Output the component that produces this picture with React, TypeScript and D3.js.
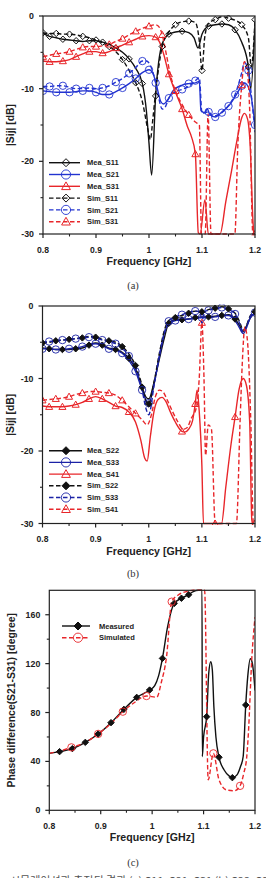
import React from 'react';
import * as d3 from 'd3';

type Pt = [number, number];

// ---------- axis ticks ----------
const FREQ_TICKS = [0.8, 0.9, 1.0, 1.1, 1.2];
const FREQ_TICK_LABELS = ['0.8', '0.9', '1', '1.1', '1.2'];
const FREQ_MINOR = [0.85, 0.95, 1.05, 1.15];
const DB_TICKS = [0, -10, -20, -30];
const DB_MINOR = [-5, -15, -25];
const PHASE_TICKS = [0, 40, 80, 120, 160];
const PHASE_MINOR = [20, 60, 100, 140];

// ---------- (a) S11 / S21 / S31 [dB] ----------
const MEA_S11: Pt[] = [[0.8,-2.4],[0.8125,-2.8],[0.825,-3.0],[0.8375,-3.2],[0.85,-3.3],[0.8625,-3.4],[0.875,-3.5],[0.8875,-3.4],[0.9,-3.4],[0.9125,-3.6],[0.925,-3.9],[0.9375,-4.4],[0.95,-5.0],[0.9625,-5.9],[0.975,-7.2],[0.9875,-9.3],[0.995,-13.0],[1.0,-17.5],[1.005,-21.9],[1.0125,-11.0],[1.025,-3.8],[1.0375,-2.5],[1.05,-2.2],[1.0625,-2.1],[1.075,-2.3],[1.085,-3.0],[1.0925,-4.4],[1.1,-2.5],[1.1125,-1.4],[1.125,-1.2],[1.1375,-1.1],[1.15,-1.2],[1.1625,-1.9],[1.175,-3.6],[1.1875,-7.0],[1.192,-10.0],[1.2,-1.0]];
const SIM_S11: Pt[] = [[0.8,-2.3],[0.8125,-2.4],[0.825,-2.4],[0.8375,-2.5],[0.85,-2.5],[0.8625,-2.6],[0.875,-2.8],[0.8875,-3.0],[0.9,-3.3],[0.9125,-3.7],[0.925,-4.2],[0.9375,-4.9],[0.95,-6.0],[0.9625,-7.5],[0.975,-9.2],[0.9875,-11.8],[0.9975,-15.5],[1.0025,-17.0],[1.0075,-14.0],[1.0125,-10.5],[1.025,-4.2],[1.0375,-2.2],[1.05,-1.2],[1.0625,-0.8],[1.075,-0.7],[1.0875,-0.9],[1.095,-3.5],[1.1,-7.5],[1.105,-3.0],[1.1125,-1.0],[1.125,-0.5],[1.1375,-0.1],[1.15,-0.3],[1.1625,-0.6],[1.175,-1.2],[1.1875,-3.0],[1.193,-7.0],[1.2,-0.5]];
const MEA_S21: Pt[] = [[0.8,-10.3],[0.8125,-10.4],[0.825,-10.5],[0.8375,-10.5],[0.85,-10.5],[0.8625,-10.4],[0.875,-10.3],[0.8875,-10.3],[0.9,-10.5],[0.9125,-10.8],[0.925,-10.8],[0.9375,-10.4],[0.95,-9.9],[0.9625,-9.3],[0.975,-8.6],[0.9875,-7.8],[1.0,-7.4],[1.0075,-7.9],[1.015,-9.8],[1.0225,-11.8],[1.0275,-12.1],[1.0375,-11.3],[1.045,-10.3],[1.0625,-9.5],[1.075,-9.3],[1.0875,-9.2],[1.095,-9.0],[1.098,-13.0],[1.105,-13.3],[1.11,-12.8],[1.115,-13.6],[1.125,-13.9],[1.1375,-13.2],[1.15,-12.4],[1.1625,-11.1],[1.175,-9.6],[1.18,-9.2],[1.1875,-9.8],[1.1925,-11.0],[1.2,-15.0]];
const SIM_S21: Pt[] = [[0.8,-9.7],[0.8125,-9.7],[0.825,-9.6],[0.8375,-9.6],[0.85,-9.8],[0.8625,-10.0],[0.875,-10.0],[0.8875,-9.9],[0.9,-10.0],[0.9125,-9.9],[0.925,-9.6],[0.9375,-9.1],[0.95,-8.6],[0.9625,-7.9],[0.975,-7.1],[0.9875,-6.2],[0.995,-6.2],[1.0025,-6.8],[1.0125,-9.2],[1.0175,-11.0],[1.025,-12.8],[1.03,-12.6],[1.0375,-11.3],[1.05,-10.4],[1.0625,-10.1],[1.075,-9.7],[1.0875,-8.9],[1.095,-8.5],[1.1,-13.4],[1.1125,-13.2],[1.12,-13.8],[1.1375,-13.3],[1.15,-12.3],[1.1625,-10.8],[1.175,-7.8],[1.18,-6.4],[1.1875,-7.5],[1.1925,-10.5],[1.2,-16.0]];
const MEA_S31: Pt[] = [[0.8,-6.2],[0.8125,-6.3],[0.825,-6.3],[0.8375,-6.2],[0.85,-6.0],[0.8625,-5.6],[0.875,-5.2],[0.8875,-4.9],[0.9,-4.9],[0.9125,-5.1],[0.925,-4.9],[0.9375,-4.4],[0.95,-4.0],[0.9625,-3.6],[0.975,-3.2],[0.9875,-2.8],[1.0,-2.7],[1.0125,-2.9],[1.02,-3.6],[1.0275,-5.2],[1.0375,-8.0],[1.05,-10.5],[1.0625,-12.8],[1.0725,-15.2],[1.08,-16.6],[1.0875,-19.0],[1.093,-29.8],[1.0965,-30.0],[1.1055,-25.3],[1.112,-30.0],[1.134,-30.0],[1.145,-25.5],[1.156,-21.2],[1.165,-17.5],[1.175,-14.0],[1.18,-13.4],[1.186,-14.2],[1.191,-18.0],[1.196,-28.0],[1.2,-32.0]];
const SIM_S31: Pt[] = [[0.8,-5.6],[0.8125,-5.4],[0.825,-5.2],[0.8375,-5.1],[0.85,-4.9],[0.8625,-4.6],[0.875,-4.3],[0.8875,-4.2],[0.9,-4.2],[0.9125,-4.1],[0.925,-3.9],[0.9375,-3.5],[0.95,-3.1],[0.9625,-2.6],[0.975,-2.1],[0.9875,-1.7],[1.0,-1.4],[1.0125,-1.2],[1.02,-1.6],[1.025,-2.6],[1.0325,-5.2],[1.04,-8.0],[1.05,-10.3],[1.0625,-12.2],[1.075,-13.6],[1.0875,-14.6],[1.095,-15.0],[1.099,-30.0],[1.106,-30.0],[1.1115,-13.5],[1.117,-30.0],[1.162,-30.0],[1.1675,-18.0],[1.175,-9.5],[1.18,-6.3],[1.1855,-7.5],[1.19,-13.0],[1.196,-30.0],[1.2,-30.0]];

// ---------- (b) S22 / S33 / S41 [dB] ----------
const MEA_S22: Pt[] = [[0.8,-5.8],[0.8125,-5.9],[0.825,-6.0],[0.8375,-6.0],[0.85,-6.0],[0.8625,-5.9],[0.875,-5.8],[0.8875,-5.4],[0.9,-5.1],[0.9125,-5.4],[0.925,-5.8],[0.9375,-6.0],[0.95,-6.4],[0.9625,-7.2],[0.975,-8.6],[0.9875,-11.2],[0.995,-12.6],[1.0,-12.8],[1.01,-10.5],[1.02,-7.3],[1.03,-4.2],[1.0375,-2.4],[1.05,-1.9],[1.0625,-1.9],[1.075,-1.8],[1.0875,-1.6],[1.1,-1.5],[1.1125,-1.5],[1.125,-1.4],[1.1375,-1.3],[1.15,-1.2],[1.1625,-1.8],[1.17,-2.6],[1.178,-3.5],[1.185,-2.6],[1.19,-1.8],[1.2,-1.0]];
const SIM_S22: Pt[] = [[0.8,-5.1],[0.8125,-5.0],[0.825,-4.8],[0.8375,-4.7],[0.85,-4.6],[0.8625,-4.5],[0.875,-4.4],[0.8875,-4.2],[0.9,-4.3],[0.9125,-4.6],[0.925,-4.8],[0.9375,-5.0],[0.95,-5.6],[0.9625,-6.6],[0.975,-8.2],[0.9875,-11.0],[0.995,-13.2],[1.0,-13.5],[1.01,-10.5],[1.02,-6.5],[1.03,-3.2],[1.0375,-2.0],[1.05,-1.6],[1.0625,-1.3],[1.075,-1.0],[1.0875,-0.7],[1.1,-0.8],[1.1125,-0.5],[1.125,-0.3],[1.1375,-0.1],[1.15,-0.4],[1.1625,-1.0],[1.17,-2.0],[1.178,-3.3],[1.185,-2.5],[1.19,-1.5],[1.2,-0.8]];
const MEA_S33: Pt[] = [[0.8,-5.9],[0.8125,-5.9],[0.825,-6.0],[0.8375,-6.0],[0.85,-5.9],[0.8625,-5.8],[0.875,-5.6],[0.8875,-5.3],[0.9,-5.2],[0.9125,-5.5],[0.925,-5.9],[0.9375,-6.1],[0.95,-6.5],[0.9625,-7.5],[0.975,-9.0],[0.9875,-11.6],[0.995,-13.0],[1.0,-13.4],[1.01,-10.8],[1.02,-7.0],[1.03,-3.6],[1.0375,-2.5],[1.05,-2.0],[1.0625,-1.9],[1.075,-1.8],[1.0875,-1.7],[1.1,-1.6],[1.1125,-1.6],[1.125,-1.5],[1.1375,-1.3],[1.15,-1.3],[1.1625,-2.0],[1.17,-2.9],[1.178,-3.8],[1.185,-2.8],[1.19,-1.8],[1.2,-0.9]];
const SIM_S33: Pt[] = [[0.8,-5.0],[0.8125,-4.9],[0.825,-4.8],[0.8375,-4.7],[0.85,-4.6],[0.8625,-4.5],[0.875,-4.4],[0.8875,-4.3],[0.9,-4.4],[0.9125,-4.7],[0.925,-4.9],[0.9375,-5.2],[0.95,-5.8],[0.9625,-6.9],[0.975,-8.6],[0.9875,-11.6],[0.995,-14.2],[1.0,-15.0],[1.01,-11.0],[1.02,-6.8],[1.03,-3.5],[1.0375,-2.1],[1.05,-1.5],[1.0625,-1.2],[1.075,-0.9],[1.0875,-0.7],[1.097,-0.8],[1.1,-2.4],[1.104,-0.8],[1.1125,-0.6],[1.125,-0.4],[1.1375,-0.2],[1.15,-0.5],[1.1625,-1.1],[1.17,-2.2],[1.178,-3.6],[1.185,-2.7],[1.19,-1.6],[1.2,-0.8]];
const MEA_S41: Pt[] = [[0.8,-13.8],[0.8125,-13.9],[0.825,-13.9],[0.8375,-13.9],[0.85,-13.8],[0.8625,-13.6],[0.875,-13.3],[0.8875,-12.8],[0.9,-12.5],[0.9125,-12.8],[0.925,-13.3],[0.9375,-13.8],[0.95,-14.0],[0.9625,-14.6],[0.975,-16.0],[0.985,-18.5],[0.9925,-21.0],[0.997,-21.4],[1.003,-18.0],[1.01,-14.5],[1.0175,-12.9],[1.025,-12.6],[1.0325,-13.2],[1.04,-14.5],[1.05,-16.0],[1.0625,-17.3],[1.0675,-17.4],[1.075,-17.0],[1.0825,-15.8],[1.0875,-13.5],[1.091,-11.6],[1.095,-14.5],[1.1,-22.0],[1.103,-30.0],[1.137,-30.0],[1.145,-25.0],[1.155,-19.0],[1.1625,-15.3],[1.17,-11.5],[1.178,-10.0],[1.184,-11.0],[1.19,-16.0],[1.194,-29.5],[1.2,-31.0]];
const SIM_S41: Pt[] = [[0.8,-13.0],[0.8125,-12.9],[0.825,-12.8],[0.8375,-12.7],[0.85,-12.5],[0.8625,-12.2],[0.875,-12.0],[0.8875,-11.8],[0.9,-11.8],[0.9125,-11.9],[0.925,-12.0],[0.9375,-12.3],[0.95,-13.0],[0.9625,-13.9],[0.975,-14.8],[0.9875,-15.7],[0.997,-16.4],[1.005,-15.0],[1.0125,-12.5],[1.02,-11.6],[1.0275,-11.9],[1.035,-13.0],[1.045,-14.6],[1.055,-16.0],[1.065,-17.0],[1.072,-16.8],[1.08,-15.5],[1.09,-13.9],[1.095,-10.0],[1.1,-2.3],[1.104,-10.0],[1.107,-20.6],[1.112,-16.4],[1.118,-17.0],[1.125,-30.0],[1.165,-30.0],[1.172,-15.7],[1.176,-8.0],[1.181,-2.9],[1.186,-5.0],[1.192,-15.7],[1.197,-30.0],[1.2,-30.0]];

// ---------- (c) phase difference S21-S31 [degree] ----------
const MEASURED: Pt[] = [[0.8,46.6],[0.82,48.0],[0.845,50.5],[0.87,55.6],[0.895,62.4],[0.92,71.7],[0.945,82.6],[0.97,92.4],[0.995,98.4],[1.005,102.0],[1.0125,110.0],[1.02,124.3],[1.03,150.0],[1.043,169.3],[1.057,173.5],[1.071,176.4],[1.08,179.0],[1.09,180.0],[1.097,180.0],[1.0975,44.0],[1.1,60.0],[1.106,76.6],[1.11,112.0],[1.114,121.6],[1.117,115.0],[1.12,85.0],[1.124,60.0],[1.13,43.4],[1.14,33.0],[1.15,28.0],[1.156,26.7],[1.165,29.0],[1.172,36.0],[1.177,44.0],[1.182,86.2],[1.186,110.0],[1.191,124.0],[1.195,120.0],[1.2,98.0]];
const SIMULATED: Pt[] = [[0.8,46.6],[0.82,48.5],[0.843,51.5],[0.87,55.5],[0.895,62.5],[0.92,71.0],[0.943,80.7],[0.965,88.0],[0.989,93.5],[1.009,92.5],[1.018,105.0],[1.028,125.7],[1.038,170.7],[1.05,176.0],[1.067,179.0],[1.08,180.0],[1.102,180.0],[1.109,25.0],[1.119,46.6],[1.13,25.0],[1.145,16.6],[1.16,16.0],[1.171,20.0],[1.178,30.0],[1.184,44.0],[1.187,62.0],[1.194,125.7],[1.2,158.0]];
const MEASURED_MARKS = [0.82, 0.845, 0.87, 0.895, 0.92, 0.945, 0.97, 0.995, 1.02, 1.043, 1.057, 1.071, 1.106, 1.13, 1.156, 1.182];
const SIMULATED_MARKS = [0.843, 0.895, 0.943, 0.989, 1.038, 1.119, 1.171];

const LEGEND_A = ['Mea_S11', 'Mea_S21', 'Mea_S31', 'Sim_S11', 'Sim_S21', 'Sim_S31'];
const LEGEND_B = ['Mea_S22', 'Mea_S33', 'Mea_S41', 'Sim_S22', 'Sim_S33', 'Sim_S41'];
const LEGEND_C = ['Measured', 'Simulated'];

const FONT = 'Liberation Sans, Arial, Helvetica, sans-serif';
const BLACK = '#111';
const RED = '#e8262a';
const BLUE_A = '#2233d0';
const BLUE_B = '#1b22a6';

type Shape = 'diamond' | 'circle' | 'triangle';
interface Series {
  data: Pt[];
  color: string;
  dashed: boolean;
  shape: Shape;
  filled: boolean;
  phase?: number; // marker grid offset (every 0.025 GHz)
  marks?: number[];
}

function Marker({ shape, x, y, color, filled, s }: { shape: Shape; x: number; y: number; color: string; filled: boolean; s: number }) {
  const fill = filled ? color : 'none';
  if (shape === 'diamond') {
    return <path d={`M${x},${y - s}L${x + s},${y}L${x},${y + s}L${x - s},${y}Z`} fill={fill} stroke={color} strokeWidth={1} />;
  }
  if (shape === 'circle') {
    return <circle cx={x} cy={y} r={s * 1.15} fill={fill} stroke={color} strokeWidth={0.9} />;
  }
  const h = s * 1.1;
  return <path d={`M${x},${y - h}L${x + h},${y + h * 0.75}L${x - h},${y + h * 0.75}Z`} fill={fill} stroke={color} strokeWidth={1} />;
}

function isMarked(f: number, s: Series) {
  if (s.marks) return s.marks.some((m) => Math.abs(m - f) < 1e-9);
  const k = (f - (s.phase ?? 0)) / 0.025;
  return Math.abs(k - Math.round(k)) < 1e-6;
}

interface PanelProps {
  id: string;
  left: number; right: number; top: number; bottom: number;
  yDomain: [number, number];
  yTicks: number[]; yMinor: number[];
  yTitle: string; yTitleX: number;
  series: Series[];
  legend: string[];
  legendX: [number, number, number, number]; // line start, marker, line end, text
  legendY: number; legendStep: number;
  markSize: number;
  caption: string; captionY: number;
}

function Panel(p: PanelProps) {
  const x = d3.scaleLinear().domain([0.8, 1.2]).range([p.left, p.right]);
  const y = d3.scaleLinear().domain(p.yDomain).range([p.bottom, p.top]);
  const line = d3.line<Pt>().x((d) => x(d[0])).y((d) => y(d[1])).curve(d3.curveMonotoneX);
  const cx = (p.left + p.right) / 2;
  return (
    <g>
      <defs>
        <clipPath id={p.id}>
          <rect x={p.left} y={p.top - 1.5} width={p.right - p.left} height={p.bottom - p.top + 3} />
        </clipPath>
      </defs>
      <g clipPath={`url(#${p.id})`}>
        {p.series.map((s, i) => (
          <path key={i} d={line(s.data) ?? ''} fill="none" stroke={s.color} strokeWidth={1.4}
            strokeDasharray={s.dashed ? '4.5,2.5' : undefined} strokeLinejoin="round" />
        ))}
        {p.series.map((s, i) =>
          s.data.filter((d) => isMarked(d[0], s) && d[1] >= p.yDomain[0] && d[1] <= p.yDomain[1]).map((d, j) => (
            <Marker key={`${i}-${j}`} shape={s.shape} x={x(d[0])} y={y(d[1])} color={s.color} filled={s.filled} s={p.markSize} />
          ))
        )}
      </g>
      <rect x={p.left} y={p.top} width={p.right - p.left} height={p.bottom - p.top} fill="none" stroke="#222" strokeWidth={1.2} />
      {FREQ_TICKS.map((t, i) => (
        <g key={t}>
          <line x1={x(t)} x2={x(t)} y1={p.bottom} y2={p.bottom + 4} stroke="#222" strokeWidth={1.2} />
          <text x={x(t)} y={p.bottom + 18.5} textAnchor="middle" fontFamily={FONT} fontWeight="bold" fontSize={8.6} fill="#222">{FREQ_TICK_LABELS[i]}</text>
        </g>
      ))}
      {FREQ_MINOR.map((t) => (
        <line key={t} x1={x(t)} x2={x(t)} y1={p.bottom} y2={p.bottom + 2.5} stroke="#222" strokeWidth={1.1} />
      ))}
      {p.yTicks.map((t) => (
        <g key={t}>
          <line x1={p.left - 4} x2={p.left} y1={y(t)} y2={y(t)} stroke="#222" strokeWidth={1.2} />
          <text x={p.left - 9} y={y(t) + 3} textAnchor="end" fontFamily={FONT} fontWeight="bold" fontSize={8.8} fill="#222">{t}</text>
        </g>
      ))}
      {p.yMinor.map((t) => (
        <line key={t} x1={p.left - 2.5} x2={p.left} y1={y(t)} y2={y(t)} stroke="#222" strokeWidth={1.1} />
      ))}
      <text x={cx} y={p.bottom + 31} textAnchor="middle" fontFamily={FONT} fontWeight="bold" fontSize={10.6} fill="#222">Frequency [GHz]</text>
      <text transform={`translate(${p.yTitleX},${(p.top + p.bottom) / 2}) rotate(-90)`} textAnchor="middle" fontFamily={FONT} fontWeight="bold" fontSize={10.4} fill="#222">{p.yTitle}</text>
      {p.legend.map((name, i) => {
        const s = p.series[i];
        const ly = p.legendY + i * p.legendStep;
        return (
          <g key={name}>
            <line x1={p.legendX[0]} x2={p.legendX[2]} y1={ly} y2={ly} stroke={s.color} strokeWidth={1.4} strokeDasharray={s.dashed ? '4.5,2.5' : undefined} />
            <Marker shape={s.shape} x={p.legendX[1]} y={ly} color={s.color} filled={s.filled} s={p.markSize * 1.25} />
            <text x={p.legendX[3]} y={ly + 2.6} fontFamily={FONT} fontWeight="bold" fontSize={7.5} fill="#222">{name}</text>
          </g>
        );
      })}
      <text x={133} y={p.captionY} textAnchor="middle" fontFamily="Liberation Serif, 'Times New Roman', serif" fontSize={10.5} fill="#333">{p.caption}</text>
    </g>
  );
}

export default function App() {
  const seriesA: Series[] = [
    { data: MEA_S11, color: BLACK, dashed: false, shape: 'diamond', filled: false, phase: 0.0125 },
    { data: MEA_S21, color: BLUE_A, dashed: false, shape: 'circle', filled: false, phase: 0 },
    { data: MEA_S31, color: RED, dashed: false, shape: 'triangle', filled: false, phase: 0.0125 },
    { data: SIM_S11, color: BLACK, dashed: true, shape: 'diamond', filled: false, phase: 0 },
    { data: SIM_S21, color: BLUE_A, dashed: true, shape: 'circle', filled: false, phase: 0.0125 },
    { data: SIM_S31, color: RED, dashed: true, shape: 'triangle', filled: false, phase: 0 },
  ];
  const seriesB: Series[] = [
    { data: MEA_S22, color: BLACK, dashed: false, shape: 'diamond', filled: true, phase: 0.0125 },
    { data: MEA_S33, color: BLUE_B, dashed: false, shape: 'circle', filled: false, phase: 0 },
    { data: MEA_S41, color: RED, dashed: false, shape: 'triangle', filled: false, phase: 0.0125 },
    { data: SIM_S22, color: BLACK, dashed: true, shape: 'diamond', filled: true, phase: 0 },
    { data: SIM_S33, color: BLUE_B, dashed: true, shape: 'circle', filled: false, phase: 0.0125 },
    { data: SIM_S41, color: RED, dashed: true, shape: 'triangle', filled: false, phase: 0 },
  ];
  const seriesC: Series[] = [
    { data: MEASURED, color: BLACK, dashed: false, shape: 'diamond', filled: true, marks: MEASURED_MARKS },
    { data: SIMULATED, color: RED, dashed: true, shape: 'circle', filled: false, marks: SIMULATED_MARKS },
  ];
  return (
    <svg width={266} height={878} viewBox="0 0 266 878" style={{ position: 'absolute', left: 0, top: 0, background: '#fff' }}>
      <rect width={266} height={878} fill="#fff" />
      <Panel id="clip-a" left={43} right={255} top={16} bottom={234} yDomain={[-30, 0]}
        yTicks={DB_TICKS} yMinor={DB_MINOR} yTitle="|Sij| [dB]" yTitleX={14}
        series={seriesA} legend={LEGEND_A} legendX={[49, 66, 80, 87]} legendY={162.7} legendStep={11.8}
        markSize={3.2} caption="(a)" captionY={289} />
      <Panel id="clip-b" left={42.5} right={255} top={306} bottom={523.5} yDomain={[-30, 0]}
        yTicks={DB_TICKS} yMinor={DB_MINOR} yTitle="|Sij| [dB]" yTitleX={14}
        series={seriesB} legend={LEGEND_B} legendX={[49, 66, 82, 87]} legendY={450.7} legendStep={11.7}
        markSize={3.2} caption="(b)" captionY={577} />
      <Panel id="clip-c" left={49.3} right={255} top={590.3} bottom={810.3} yDomain={[0, 180]}
        yTicks={PHASE_TICKS} yMinor={PHASE_MINOR} yTitle="Phase difference(S21-S31) [degree]" yTitleX={15}
        series={seriesC} legend={LEGEND_C} legendX={[62, 78, 90, 99]} legendY={626} legendStep={11.7}
        markSize={3.2} caption="(c)" captionY={865.5} />
      <text x={10} y={884.5} fontFamily="'Noto Sans CJK KR', sans-serif" fontSize={11} fill="#555">시뮬레이션과 측정된 결과 (a) S11, S21, S31 (b) S22, S33, S41</text>
    </svg>
  );
}
